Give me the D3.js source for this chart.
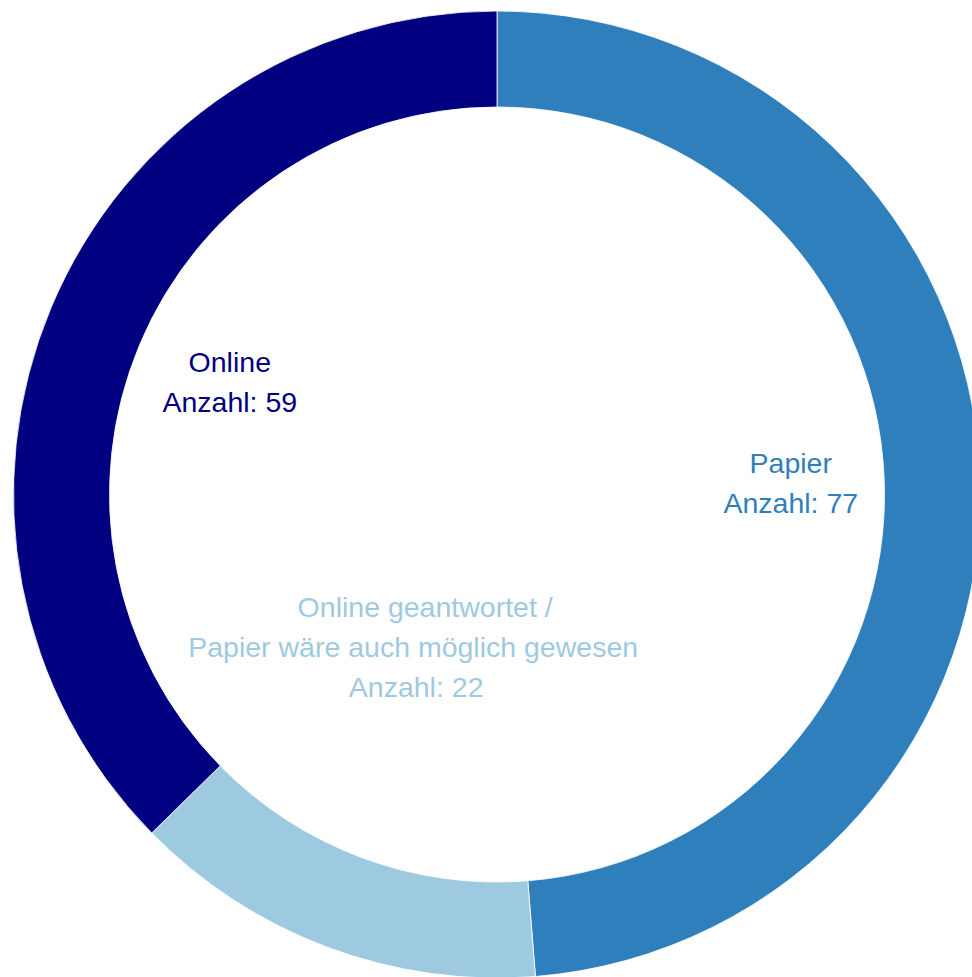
<!DOCTYPE html>
<html>
<head>
<meta charset="utf-8">
<script src="https://cdn.jsdelivr.net/npm/d3@7"></script>
<style>
  html, body { margin: 0; padding: 0; background: #fff; }
  svg { display: block; }
</style>
</head>
<body>
<svg id="chart" width="972" height="977"></svg>
<script>
// ---- data ----
const categories = ["Papier", "Online geantwortet /\nPapier wäre auch möglich gewesen", "Online"];
const counts = [77, 22, 59];
const colors = ["#2f7fbd", "#9ecae1", "#000080"];
const valuePrefix = "Anzahl: ";

// ---- layout ----
const W = 972, H = 977;
const cx = 497, cy = 494.5;
const outerR = 483.5, innerR = 387.5;
const fontSize = 28.5, lineH = 40, capH = fontSize * 0.716;

const svg = d3.select("#chart");
const g = svg.append("g").attr("transform", `translate(${cx},${cy})`);

const data = categories.map((c, i) => ({ label: c, value: counts[i], color: colors[i] }));

const pie = d3.pie().value(d => d.value).sort(null).startAngle(0).endAngle(2 * Math.PI);
const arcs = pie(data);

const arc = d3.arc().innerRadius(innerR).outerRadius(outerR);

g.selectAll("path.slice")
  .data(arcs)
  .enter().append("path")
  .attr("class", "slice")
  .attr("d", arc)
  .attr("fill", d => d.data.color)
  .attr("stroke", "#ffffff")
  .attr("stroke-width", 0.8);

// label placement: centroid on a circle of radius 292; the long label sits further inside
const labelArc = d3.arc().innerRadius(292).outerRadius(292);
const innerLabelArc = d3.arc().innerRadius(174).outerRadius(174);

arcs.forEach((a, i) => {
  const lines = a.data.label.split("\n").concat([valuePrefix + a.data.value]);
  let pos, dxs;
  if (lines.length > 2) {
    // shift the long label's angle so it fits inside the hole
    const shifted = Object.assign({}, a, {
      startAngle: a.startAngle + 0.145, endAngle: a.endAngle + 0.145
    });
    pos = innerLabelArc.centroid(shifted);
    dxs = [10, -2, 1];
  } else {
    pos = labelArc.centroid(a);
    dxs = [0, 0];
  }
  const blockH = (lines.length - 1) * lineH + capH;
  const firstBase = pos[1] - blockH / 2 + capH;
  const t = g.append("text")
    .attr("text-anchor", "middle")
    .attr("font-family", "'Liberation Sans', Arial, Helvetica, sans-serif")
    .attr("font-size", fontSize)
    .attr("fill", a.data.color);
  lines.forEach((ln, j) => {
    t.append("tspan")
      .attr("x", pos[0] + 2 + dxs[j])
      .attr("y", firstBase + j * lineH)
      .text(ln);
  });
});
</script>
</body>
</html>
